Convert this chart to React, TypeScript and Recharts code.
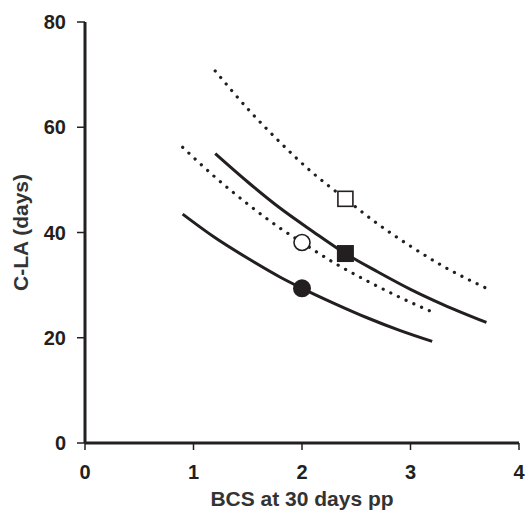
import { Line, LineChart, Scatter, XAxis, YAxis } from "recharts";

// curves (BCS at 30 days pp vs C-LA days)
const lowerSolid = [
  { x: 0.9, y: 43.5 },
  { x: 1.2, y: 39.0 },
  { x: 1.5, y: 35.1 },
  { x: 1.8, y: 31.5 },
  { x: 2.0, y: 29.4 },
  { x: 2.3, y: 26.5 },
  { x: 2.6, y: 23.8 },
  { x: 2.9, y: 21.4 },
  { x: 3.2, y: 19.3 },
];

const lowerDotted = [
  { x: 0.9, y: 56.2 },
  { x: 1.2, y: 50.5 },
  { x: 1.5, y: 45.4 },
  { x: 1.8, y: 40.8 },
  { x: 2.0, y: 38.1 },
  { x: 2.3, y: 34.2 },
  { x: 2.6, y: 30.8 },
  { x: 2.9, y: 27.7 },
  { x: 3.2, y: 24.9 },
];

const upperSolid = [
  { x: 1.2, y: 55.0 },
  { x: 1.5, y: 49.6 },
  { x: 1.8, y: 44.6 },
  { x: 2.1, y: 40.2 },
  { x: 2.4, y: 36.0 },
  { x: 2.7, y: 32.5 },
  { x: 3.0, y: 29.2 },
  { x: 3.3, y: 26.3 },
  { x: 3.7, y: 22.9 },
];

const upperDotted = [
  { x: 1.2, y: 70.7 },
  { x: 1.5, y: 63.5 },
  { x: 1.8, y: 57.1 },
  { x: 2.1, y: 51.3 },
  { x: 2.4, y: 46.4 },
  { x: 2.7, y: 41.6 },
  { x: 3.0, y: 37.4 },
  { x: 3.3, y: 33.6 },
  { x: 3.7, y: 29.4 },
];

const filledCircle = [{ x: 2.0, y: 29.4 }];
const openCircle = [{ x: 2.0, y: 38.1 }];
const filledSquare = [{ x: 2.4, y: 36.0 }];
const openSquare = [{ x: 2.4, y: 46.4 }];

const xTicks = [0, 1, 2, 3, 4];
const yTicks = [0, 20, 40, 60, 80];

const INK = "#231f20";
const FONT = "'Liberation Sans', Arial, sans-serif";
const tickStyle = { fill: INK, fontSize: 20, fontWeight: 700, fontFamily: FONT };
const labelStyle = { fill: "#333", fontSize: 21, fontWeight: 700, fontFamily: FONT, textAnchor: "middle" as const };

const circleShape = (filled: boolean) => (props: any) => (
  <circle
    cx={props.cx}
    cy={props.cy}
    r={filled ? 9 : 8}
    fill={filled ? INK : "#fff"}
    stroke={INK}
    strokeWidth={filled ? 0 : 1.6}
  />
);

const squareShape = (filled: boolean) => (props: any) => {
  const s = filled ? 17 : 15;
  return (
    <rect
      x={props.cx - s / 2}
      y={props.cy - s / 2}
      width={s}
      height={s}
      fill={filled ? INK : "#fff"}
      stroke={INK}
      strokeWidth={filled ? 0 : 1.6}
    />
  );
};

export default function App() {
  return (
    <div style={{ position: "fixed", left: 0, top: 0, background: "#fff" }}>
      <LineChart width={525} height={512} margin={{ top: 22, right: 6, left: 0, bottom: 0 }}>
        <XAxis
          type="number"
          dataKey="x"
          domain={[0, 4]}
          ticks={xTicks}
          allowDataOverflow
          height={69}
          tick={tickStyle}
          tickSize={7}
          tickMargin={15}
          axisLine={{ stroke: INK, strokeWidth: 3 }}
          tickLine={{ stroke: INK, strokeWidth: 1.5 }}
          label={{ value: "BCS at 30 days pp", position: "insideBottom", offset: 6, style: labelStyle }}
        />
        <YAxis
          type="number"
          dataKey="y"
          domain={[0, 80]}
          ticks={yTicks}
          width={85}
          tick={tickStyle}
          tickSize={8}
          tickMargin={11}
          axisLine={{ stroke: INK, strokeWidth: 3 }}
          tickLine={{ stroke: INK, strokeWidth: 1.5 }}
          label={{ value: "C-LA (days)", angle: -90, position: "insideLeft", offset: 21, style: labelStyle }}
        />
        <Line data={lowerSolid} dataKey="y" type="monotone" stroke={INK} strokeWidth={3} dot={false} isAnimationActive={false} />
        <Line data={lowerDotted} dataKey="y" type="monotone" stroke={INK} strokeWidth={3.2} strokeDasharray="0.1 8.4" strokeLinecap="round" dot={false} isAnimationActive={false} />
        <Line data={upperSolid} dataKey="y" type="monotone" stroke={INK} strokeWidth={3} dot={false} isAnimationActive={false} />
        <Line data={upperDotted} dataKey="y" type="monotone" stroke={INK} strokeWidth={3.2} strokeDasharray="0.1 8.4" strokeLinecap="round" dot={false} isAnimationActive={false} />
        <Scatter data={filledCircle} dataKey="y" shape={circleShape(true)} isAnimationActive={false} />
        <Scatter data={openCircle} dataKey="y" shape={circleShape(false)} isAnimationActive={false} />
        <Scatter data={filledSquare} dataKey="y" shape={squareShape(true)} isAnimationActive={false} />
        <Scatter data={openSquare} dataKey="y" shape={squareShape(false)} isAnimationActive={false} />
      </LineChart>
    </div>
  );
}
